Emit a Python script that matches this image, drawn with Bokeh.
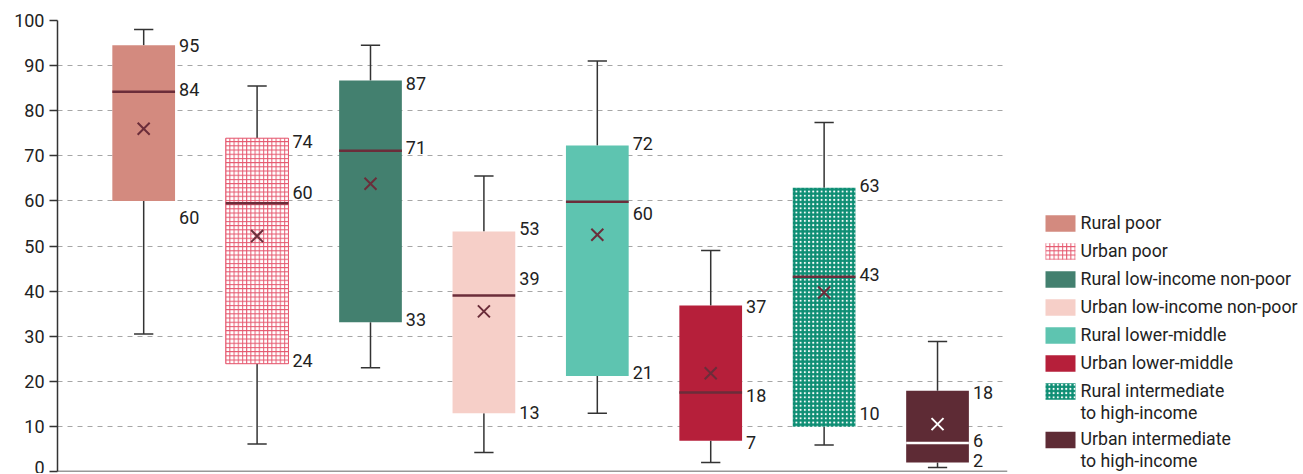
from bokeh.plotting import figure
from bokeh.layouts import row
from bokeh.models import Range1d, Span, SingleIntervalTicker, ColumnDataSource
from bokeh.core.properties import value
from bokeh.embed import file_html
from bokeh.resources import INLINE

# ---------------- data ----------------
categories = ["Rural poor", "Urban poor", "Rural low-income non-poor",
              "Urban low-income non-poor", "Rural lower-middle", "Urban lower-middle",
              "Rural intermediate\nto high-income", "Urban intermediate\nto high-income"]
whisker_low = [30.5, 6.1, 23.0, 4.2, 12.9, 2.0, 5.9, 0.9]
q1 = [60.0, 23.9, 33.1, 12.9, 21.2, 6.8, 9.9, 2.0]
median = [84.2, 59.5, 71.1, 39.0, 59.8, 17.5, 43.2, 6.3]
q3 = [94.5, 73.9, 86.7, 53.2, 72.3, 36.8, 62.9, 17.9]
whisker_high = [98.0, 85.5, 94.5, 65.5, 91.0, 49.0, 77.4, 28.8]
mean = [76.0, 52.2, 63.8, 35.5, 52.5, 21.8, 39.7, 10.5]
q3_labels = ["95", "74", "87", "53", "72", "37", "63", "18"]
median_labels = ["84", "60", "71", "39", "60", "18", "43", "6"]
q1_labels = ["60", "24", "33", "13", "21", "7", "10", "2"]

# ---------------- style ----------------
fill_colors = ["#D38A7F", "#FFFFFF", "#43806F", "#F6CFC8", "#5EC4B0", "#B61F3A", "#0E8E74", "#5E2B35"]
hatch_patterns = [" ", "+", " ", " ", " ", " ", ".", " "]
hatch_colors = ["#FFFFFF", "#E5566D", "#FFFFFF", "#FFFFFF", "#FFFFFF", "#FFFFFF", "#FFFFFF", "#FFFFFF"]
line_colors = [None, "#E5566D", None, None, None, None, None, None]
median_colors = ["#6B2D3A"] * 7 + ["#FFFFFF"]
mean_colors = ["#6B2D3A"] * 7 + ["#FFFFFF"]
# vertical nudges (pixels, downwards) of value labels
q3_dy = [0, 3, 3, -3, -2, 1, -2, 2]
median_dy = [-2, -11, -3, -17, 12, 3, -2, -3]
q1_dy = [17, -3, -3, -1, -3, 2, -13, -2]

FONT = "Roboto"
FS = "18px"
BOX_W = 0.553
CAP_W = 0.085
TOP, BOTTOM, H = 20, 2, 473

xs = list(range(1, len(q1) + 1))
src = ColumnDataSource(dict(
    x=xs, q1=q1, q3=q3, med=median, mean=mean, wl=whisker_low, wh=whisker_high,
    fill=fill_colors, hp=hatch_patterns, hc=hatch_colors,
    lc=[c if c else "rgba(0,0,0,0)" for c in line_colors],
    mc=median_colors, mnc=mean_colors,
    x0=[x - BOX_W / 2 for x in xs], x1=[x + BOX_W / 2 for x in xs],
    c0=[x - CAP_W for x in xs], c1=[x + CAP_W for x in xs],
))

p = figure(width=1030, height=H, output_backend="svg", toolbar_location=None,
           x_range=Range1d(0.24, 8.617), y_range=Range1d(0, 100),
           min_border_left=57, min_border_right=23, min_border_top=TOP, min_border_bottom=BOTTOM)
p.outline_line_color = None
p.xaxis.visible = False
p.xgrid.grid_line_color = None
p.yaxis.ticker = SingleIntervalTicker(interval=10)
p.ygrid.ticker = SingleIntervalTicker(interval=10)
p.ygrid.grid_line_color = "#A6A6A6"
p.ygrid.grid_line_dash = "5 5"
p.ygrid.grid_line_width = 1.2
p.yaxis.axis_line_color = "#333333"
p.yaxis.axis_line_width = 1.5
p.yaxis.major_tick_line_color = "#333333"
p.yaxis.major_tick_line_width = 1.5
p.yaxis.major_tick_out = 8
p.yaxis.major_tick_in = 0
p.yaxis.minor_tick_line_color = None
p.yaxis.major_label_standoff = 5
p.yaxis.major_label_text_font = FONT
p.yaxis.major_label_text_font_size = FS
p.yaxis.major_label_text_color = "#222222"

# whiskers
p.segment(x0="x", y0="q3", x1="x", y1="wh", source=src, line_color="#333333", line_width=1.5)
p.segment(x0="x", y0="q1", x1="x", y1="wl", source=src, line_color="#333333", line_width=1.5)
p.segment(x0="c0", y0="wh", x1="c1", y1="wh", source=src, line_color="#333333", line_width=1.5)
p.segment(x0="c0", y0="wl", x1="c1", y1="wl", source=src, line_color="#333333", line_width=1.5)

# boxes
p.vbar(x="x", width=BOX_W, top="q3", bottom="q1", source=src, fill_color="fill",
       line_color="lc", line_width=1, hatch_pattern="hp", hatch_color="hc",
       hatch_scale=4.2, hatch_weight=1)

# medians and means
p.segment(x0="x0", y0="med", x1="x1", y1="med", source=src, line_color="mc", line_width=2.5)
p.scatter(x="x", y="mean", source=src, marker="x", size=17, line_color="mnc", line_width=2)

# value labels
lab = ColumnDataSource(dict(
    x=[x + BOX_W / 2 for x in xs] * 3,
    y=q3 + median + q1,
    t=q3_labels + median_labels + q1_labels,
    dy=q3_dy + median_dy + q1_dy,
))
p.text(x="x", y="y", text="t", source=lab, x_offset=4, y_offset="dy",
       text_align="left", text_baseline="middle", text_font=value(FONT),
       text_font_size=FS, text_color="#222222")

p.add_layout(Span(location=0, dimension="width", line_color="#333333", line_width=1.5))

# ---------------- legend panel (coordinates = page pixels) ----------------
LW = 273
lg = figure(width=LW, height=H, output_backend="svg", toolbar_location=None,
            x_range=Range1d(1030, 1030 + LW), y_range=Range1d(H - BOTTOM, TOP),
            min_border_left=0, min_border_right=0, min_border_top=TOP, min_border_bottom=BOTTOM)
lg.axis.visible = False
lg.grid.grid_line_color = None
lg.outline_line_color = None

centers = []
yc = 223.0
for name in categories:
    centers.append(yc)
    yc += 28.0 + 20.5 * name.count("\n")

n = len(categories)
lsrc = ColumnDataSource(dict(
    l=[1045] * n, r=[1075] * n,
    t=[c - 8.3 for c in centers], b=[c + 8.3 for c in centers],
    fill=fill_colors, hp=hatch_patterns, hc=hatch_colors,
    name=categories, ty=[c - 11 for c in centers],
))
lg.quad(left="l", right="r", top="t", bottom="b", source=lsrc, fill_color="fill",
        line_color=None, hatch_pattern="hp", hatch_color="hc", hatch_scale=4.2, hatch_weight=1)
lg.text(x=1080, y="ty", text="name", source=lsrc, text_align="left", text_baseline="top",
        text_font=value(FONT), text_font_size="17.7px", text_color="#222222", text_line_height=1.1)

layout = row(p, lg)
open("out.html", "w").write(file_html(layout, INLINE))
